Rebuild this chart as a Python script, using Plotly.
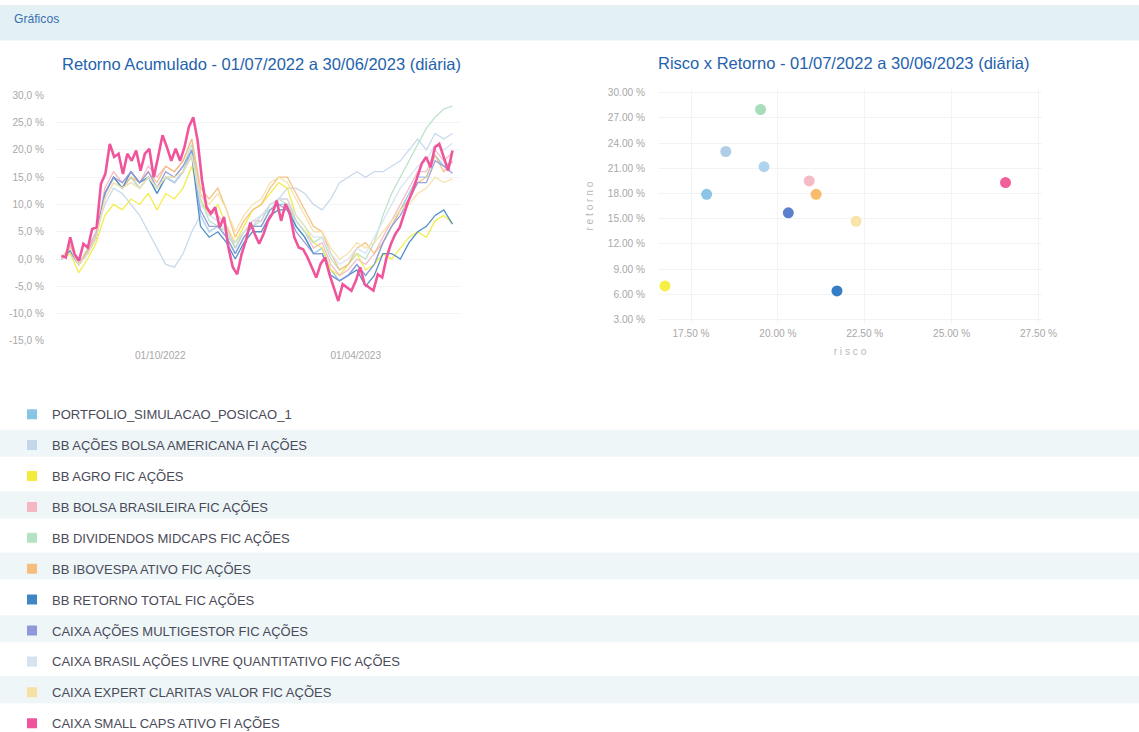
import pandas as pd
import plotly.graph_objects as go

# ---------------- data ----------------
series_names = [
    "PORTFOLIO_SIMULACAO_POSICAO_1",
    "BB AÇÕES BOLSA AMERICANA FI AÇÕES",
    "BB AGRO FIC AÇÕES",
    "BB BOLSA BRASILEIRA FIC AÇÕES",
    "BB DIVIDENDOS MIDCAPS FIC AÇÕES",
    "BB IBOVESPA ATIVO FIC AÇÕES",
    "BB RETORNO TOTAL FIC AÇÕES",
    "CAIXA AÇÕES MULTIGESTOR FIC AÇÕES",
    "CAIXA BRASIL AÇÕES LIVRE QUANTITATIVO FIC AÇÕES",
    "CAIXA EXPERT CLARITAS VALOR FIC AÇÕES",
    "CAIXA SMALL CAPS ATIVO FI AÇÕES",
]
series_colors = [
    "#86c5e4", "#c3d6ea", "#f2ec3c", "#f4b7c3", "#b3e2c4", "#f6bd7c",
    "#3f86c4", "#8f98dc", "#d5e2f0", "#f7e0a4", "#f0559c",
]
marker_colors = [
    "#7fbfe2", "#a9c6e2", "#f4ee2c", "#f5b3c0", "#9fd9b4", "#f6b55c",
    "#1f6fc0", "#4a72c8", "#a9cfec", "#f8e2a0", "#ef4f90",
]

start_date = "2022-07-01"
end_date = "2023-06-30"

portfolio = [0, 2, -1, 1.5, 5, 12, 15, 13, 15, 13, 15, 12, 15, 14, 16, 20, 8, 5, 6, 4, 1, 4, 6, 6, 9, 10,
             10, 6, 4, 1, 2, -2, -4, -3, -1, -3, -1, 3, 6, 9, 12, 15, 15, 19, 17, 17.9]
bb_americana = [0, 1, -1, 2, 5, 10, 13, 12, 10, 8, 5, 2, -1, -1.5, 1, 5, 8, 5, 6, 4, 3, 5, 6, 8, 9, 11,
                13, 13, 12, 10, 9, 11, 14, 15, 16, 15, 16, 16, 17, 18, 20, 22, 20, 23, 22, 23]
bb_agro = [0, 1, -2.5, 0, 3, 8, 10, 9, 11, 10, 12, 9, 12, 11, 13, 17, 11, 8, 10, 6, 3, 6, 9, 10, 12, 14,
           13, 8, 6, 3, 2, -2, -3, -1, 1, -2, -1, 1, 0, 2, 4, 5, 4, 7, 8, 6.5]
bb_bolsa_brasileira = [0, 2, -1, 1.5, 5, 13, 16, 14, 16, 14, 17, 15, 17, 16, 18, 22, 12, 9, 8, 6, 2, 5, 7, 7,
                       10, 11, 11, 7, 5, 2, 3, -1, -3, -2, 0, -1, 1, 4, 7, 10, 13, 16, 16, 20, 18, 19.5]
bb_dividendos = [0, 2, -1, 1, 4, 12, 15, 13, 15, 13, 15, 13, 15, 15, 17, 21, 11, 7, 6, 5, 2, 5, 6, 7, 10, 11,
                 10, 7, 5, 3, 4, 0, -2, -1, 1, 0, 3, 8, 12, 15, 18, 21, 24, 26, 27.5, 28]
bb_ibovespa = [0, 2.5, -1, 1.5, 4, 12, 15, 13, 15, 14, 16, 14, 17, 16, 18, 22, 13, 11, 13, 9, 4, 7, 9, 10, 13,
               15, 15, 12, 9, 6, 5, 1, -2, -1, 2, 3, 1, 3, 6, 9, 11, 14, 15, 19, 16, 17.9]
bb_retorno_total = [0, 1.5, -1, 1, 4, 12, 15, 13, 16, 14, 15, 12, 15, 14, 16, 19, 6, 4, 5, 3, 0, 3, 5, 5, 8, 9,
                    9, 6, 4, 1, 1, -3, -4, -3, -2, -5, -3, 1, 1, 0, 3, 5, 6, 8, 9, 6.4]
caixa_multigestor = [0, 2, -1, 1, 4, 12, 15, 14, 16, 14, 16, 13, 16, 15, 17, 20, 9, 6, 6, 4, 1, 4, 6, 6, 9, 10,
                     9, 5, 3, 1, 1, -3, -4, -3, -1, -3, -1, 3, 6, 8, 11, 14, 14, 18, 17, 15.7]
caixa_livre = [0, 2, -1, 1, 4, 11, 14, 13, 14, 13, 15, 13, 15, 14, 16, 19, 10, 8, 7, 5, 3, 5, 7, 8, 10, 11,
               11, 8, 6, 4, 4, 1, -1, 0, 2, 1, 4, 7, 10, 13, 15, 17, 18, 21, 20, 21.2]
caixa_expert = [0, 2, -1, 1, 4, 11, 14, 13, 14, 13, 15, 13, 15, 15, 16, 19, 12, 10, 12, 9, 5, 8, 10, 11, 14, 15,
                14, 11, 8, 5, 5, 2, 0, 1, 3, 2, 3, 5, 7, 9, 10, 12, 13, 15, 14, 14.7]
caixa_small_caps = [0.6, 0.3, 4.0, 0.9, -0.3, 2.8, 2.1, 5.5, 5.8, 13.8, 15.6, 21.1, 18.7, 19.3, 15.6, 19.3,
                    18.0, 19.9, 16.2, 19.3, 20.2, 15.0, 18.7, 22.7, 20.5, 18.0, 20.2, 18.0, 20.5, 24.2,
                    26.0, 21.7, 14.4, 9.5, 8.3, 9.5, 5.8, 7.7, 2.1, -1.5, -2.8, 0.9, 3.4, 6.7, 4.6, 2.8,
                    4.6, 7.0, 8.3, 10.7, 7.0, 10.1, 8.3, 4.0, 2.1, 1.8, 0.3, -1.5, -3.4, -0.9, 0.3, -2.8,
                    -5.2, -7.7, -4.6, -5.2, -5.8, -4.0, -1.5, -4.6, -5.2, -5.8, -2.8, -3.4, 0.3, 2.8, 4.6,
                    5.8, 8.3, 10.7, 12.6, 15.0, 17.5, 18.7, 16.8, 20.5, 21.1, 18.7, 16.2, 19.9]

series_values = [portfolio, bb_americana, bb_agro, bb_bolsa_brasileira, bb_dividendos, bb_ibovespa,
                 bb_retorno_total, caixa_multigestor, caixa_livre, caixa_expert, caixa_small_caps]

risco = [17.95, 18.5, 16.75, 20.9, 19.5, 21.1, 21.7, 20.3, 19.6, 22.25, 26.55]
retorno = [17.9, 23.0, 7.0, 19.5, 28.0, 17.9, 6.4, 15.7, 21.2, 14.7, 19.3]

left_yticks = [30, 25, 20, 15, 10, 5, 0, -5, -10, -15]
left_yticktext = ["30,0 %", "25,0 %", "20,0 %", "15,0 %", "10,0 %", "5,0 %", "0,0 %", "-5,0 %",
                  "-10,0 %", "-15,0 %"]
left_xticks = ["2022-10-01", "2023-04-01"]
left_xticktext = ["01/10/2022", "01/04/2023"]
right_yticks = [3, 6, 9, 12, 15, 18, 21, 24, 27, 30]
right_xticks = [17.5, 20.0, 22.5, 25.0, 27.5]

# ---------------- figure ----------------
W, H = 1154, 742
S, OY = 0.987, 4.5   # observed page-capture scale / offset, compensated below
fig = go.Figure()

def px_x(p):
    return (p / S) / W

def px_y(p):
    return 1 - ((p - OY) / S) / H

def fs(v):
    return v / S

for name, col, vals in zip(series_names, series_colors, series_values):
    dates = pd.date_range(start_date, end_date, periods=len(vals))
    is_main = name.startswith("CAIXA SMALL")
    fig.add_trace(go.Scatter(
        x=dates, y=vals, mode="lines", name=name, legendgroup=name, showlegend=False,
        line=dict(color=col, width=2.6 if is_main else 1.3),
        opacity=1.0 if is_main else 0.9,
        xaxis="x", yaxis="y", hoverinfo="skip"))

for name, col, rx, ry in zip(series_names, marker_colors, risco, retorno):
    fig.add_trace(go.Scatter(
        x=[rx], y=[ry], mode="markers", name=name, legendgroup=name, showlegend=False,
        marker=dict(color=col, size=11, opacity=0.9), xaxis="x2", yaxis="y2"))

# legend-only entries with square symbols
for name, col in zip(series_names, series_colors):
    fig.add_trace(go.Scatter(
        x=[None], y=[None], mode="markers", name=name, legendgroup=name, showlegend=True,
        marker=dict(color=col, size=10, symbol="square"), xaxis="x2", yaxis="y2"))

tick_font = dict(family="Arial", size=fs(10), color="#a8a8a8")
grid_col = "#f1f3f5"

fig.update_layout(
    width=W, height=H, margin=dict(l=0, r=0, t=0, b=0),
    paper_bgcolor="white", plot_bgcolor="white",
    font=dict(family="Arial"),
    xaxis=dict(domain=[px_x(55), px_x(460)], type="date",
               range=["2022-06-25", "2023-07-07"],
               tickvals=left_xticks, ticktext=left_xticktext, tickfont=tick_font,
               showgrid=False, zeroline=False, showline=False, ticks="", ticklabelstandoff=7),
    yaxis=dict(domain=[px_y(341), px_y(95)], range=[-15, 30],
               tickvals=left_yticks, ticktext=left_yticktext, tickfont=tick_font,
               gridcolor=grid_col, zeroline=False, showline=False, ticks="", ticklabelstandoff=10),
    xaxis2=dict(domain=[px_x(658), px_x(1042)], range=[16.55, 27.6], anchor="y2",
                tickvals=right_xticks, ticktext=[f"{v:.2f} %" for v in right_xticks],
                tickfont=tick_font, gridcolor=grid_col, zeroline=False, showline=False, ticks="",
                ticklabelstandoff=3,
                title=dict(text="r i s c o", font=dict(size=fs(10), color="#b8b8b8"), standoff=9)),
    yaxis2=dict(domain=[px_y(323), px_y(89)], range=[2.6, 30.4], anchor="x2",
                tickvals=right_yticks, ticktext=[f"{v:.2f} %" for v in right_yticks],
                tickfont=tick_font, gridcolor=grid_col, zeroline=False, showline=False, ticks="",
                ticklabelstandoff=12,
                title=dict(text="r e t o r n o", font=dict(size=fs(10), color="#b8b8b8"), standoff=12)),
    legend=dict(x=px_x(12), y=px_y(399.5), xanchor="left", yanchor="top",
                font=dict(family="Arial", size=13, color="#4a4a58"),
                tracegroupgap=11.0, itemclick=False, itemdoubleclick=False,
                bgcolor="rgba(0,0,0,0)"),
    showlegend=True,
)

# header band and alternating legend row shading
shapes = [dict(type="rect", xref="paper", yref="paper", x0=0, x1=1, y0=px_y(40), y1=1,
               fillcolor="#e3f1f4", line=dict(width=0), layer="below")]
for top in [430, 492, 553, 616, 677]:
    shapes.append(dict(type="rect", xref="paper", yref="paper", x0=0, x1=1,
                       y0=px_y(top + 27), y1=px_y(top), fillcolor="#eef6f8",
                       line=dict(width=0), layer="below"))
fig.update_layout(shapes=shapes)

fig.add_annotation(text="Gráficos", xref="paper", yref="paper", x=px_x(12), y=px_y(19),
                   xanchor="left", yanchor="middle", showarrow=False,
                   font=dict(family="Arial", size=fs(12), color="#3a6fb2"))
fig.add_annotation(text="Retorno Acumulado - 01/07/2022 a 30/06/2023 (diária)", xref="paper",
                   yref="paper", x=px_x(261), y=px_y(64), xanchor="center", yanchor="middle",
                   showarrow=False, font=dict(family="Arial", size=16.5, color="#2462ad"))
fig.add_annotation(text="Risco x Retorno - 01/07/2022 a 30/06/2023 (diária)", xref="paper",
                   yref="paper", x=px_x(843), y=px_y(63), xanchor="center", yanchor="middle",
                   showarrow=False, font=dict(family="Arial", size=16.5, color="#2462ad"))

fig.write_html(
    "out.html",
    config={"responsive": False, "displayModeBar": False},
    post_script=(
        "document.documentElement.style.overflow='hidden';"
        "document.body.style.margin='0';document.body.style.overflow='hidden';"
        "var d=document.getElementById('{plot_id}');"
        "d.style.position='fixed';d.style.top='0px';d.style.left='0px';"
    ),
)
